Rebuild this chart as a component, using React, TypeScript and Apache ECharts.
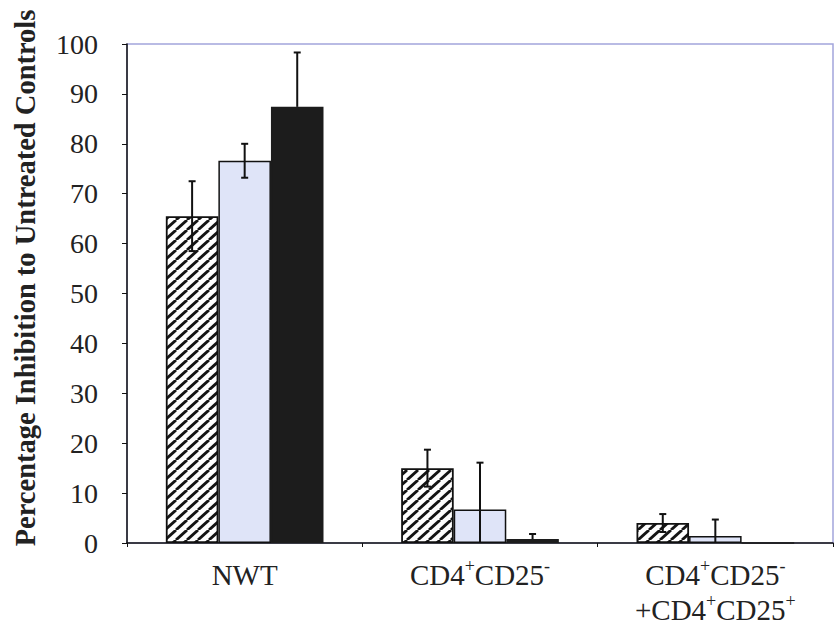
import React, { useEffect, useRef } from "react";
import * as echarts from "echarts";

const categories = ["NWT", "CD4+CD25-", "CD4+CD25-\n+CD4+CD25+"];
const yTicks = { min: 0, max: 100, interval: 10 };
const hatchedValues = [65.5, 15.0, 4.0];
const hatchedErrors = [7.0, 3.7, 1.8];
const lightValues = [76.6, 6.7, 1.4];
const lightErrors = [3.4, 9.4, 3.3];
const blackValues = [87.4, 0.8, 0];
const blackErrors = [10.9, 1.0, 0];
const yTitle = "Percentage Inhibition to Untreated Controls";

const SERIF = "'Liberation Serif', 'Times New Roman', serif";
const CAT_FILL = 0.67;
const HATCH_W = 11;
const HATCH_H = 10;

function makeHatch() {
  const w = HATCH_W;
  const h = HATCH_H;
  const c = document.createElement("canvas");
  c.width = w;
  c.height = h;
  const ctx = c.getContext("2d")!;
  ctx.fillStyle = "#ffffff";
  ctx.fillRect(0, 0, w, h);
  ctx.strokeStyle = "#151515";
  ctx.lineWidth = 2.8;
  for (const k of [-1, 0, 1]) {
    ctx.beginPath();
    ctx.moveTo(k * w, h);
    ctx.lineTo(k * w + w, 0);
    ctx.stroke();
  }
  return c;
}

export default function App() {
  const ref = useRef<HTMLDivElement>(null);
  useEffect(() => {
    if (!ref.current) return;
    const chart = echarts.init(ref.current, undefined, { renderer: "svg" });
    const hatch = makeHatch();

    const errData: any[] = [];
    const groups = [
      [hatchedValues, hatchedErrors],
      [lightValues, lightErrors],
      [blackValues, blackErrors],
    ];
    groups.forEach(([vals, errs], si) => {
      vals.forEach((v, ci) => {
        if (errs[ci] > 0) errData.push([ci, v, errs[ci], si]);
      });
    });

    const barCommon = {
      type: "bar",
      barGap: "0%",
      barCategoryGap: "33%",
    };

    chart.setOption({
      animation: false,
      grid: {
        left: 127,
        right: 7,
        top: 44,
        bottom: 82,
        show: true,
        borderColor: "#a3a5dc",
        borderWidth: 1.5,
        backgroundColor: "transparent",
      },
      xAxis: {
        type: "category",
        data: categories,
        axisLine: { lineStyle: { color: "#111", width: 1.5 } },
        axisTick: { show: true, length: 4, lineStyle: { color: "#111" } },
        axisLabel: {
          interval: 0,
          margin: 14,
          fontFamily: SERIF,
          fontSize: 29,
          lineHeight: 35,
          color: "#222",
          formatter: (v: string) => v.replace(/(\d)([+-])/g, "$1{sup|$2}"),
          rich: {
            sup: {
              fontFamily: SERIF,
              fontSize: 18,
              lineHeight: 22,
              verticalAlign: "top",
              color: "#222",
            },
          },
        },
      },
      yAxis: {
        type: "value",
        min: yTicks.min,
        max: yTicks.max,
        interval: yTicks.interval,
        splitLine: { show: false },
        axisLine: { show: true, lineStyle: { color: "#111", width: 1.5 } },
        axisTick: { show: true, inside: false, length: 5, lineStyle: { color: "#111" } },
        axisLabel: {
          margin: 29,
          fontFamily: SERIF,
          fontSize: 28,
          color: "#222",
        },
      },
      graphic: [
        {
          type: "text",
          x: 25,
          y: 278,
          rotation: Math.PI / 2,
          style: {
            text: yTitle,
            fontFamily: SERIF,
            fontWeight: "bold",
            fontSize: 28.5,
            fill: "#222",
            textAlign: "center",
            textVerticalAlign: "middle",
          },
        },
      ],
      series: [
        {
          ...barCommon,
          name: "Hatched",
          data: hatchedValues,
          itemStyle: {
            borderColor: "#111",
            borderWidth: 1.8,
            color: { image: hatch, repeat: "repeat", imageWidth: HATCH_W, imageHeight: HATCH_H },
          },
        },
        {
          ...barCommon,
          name: "Light",
          data: lightValues,
          itemStyle: { borderColor: "#111", borderWidth: 1.5, color: "#dfe4f8" },
        },
        {
          ...barCommon,
          name: "Black",
          data: blackValues,
          itemStyle: { borderColor: "#1c1c1c", borderWidth: 1.5, color: "#1c1c1c" },
        },
        {
          type: "custom",
          name: "Error",
          data: errData,
          z: 10,
          renderItem: (params: any, api: any) => {
            const ci = api.value(0);
            const v = api.value(1);
            const e = api.value(2);
            const si = api.value(3);
            const catW = api.size([1, 0])[0];
            const bw = (catW * CAT_FILL) / 3;
            const c = api.coord([ci, v]);
            const x = c[0] + (si - 1) * bw;
            const top = api.coord([ci, v + e])[1];
            const lowV = v - e;
            const bot = api.coord([ci, Math.max(0, lowV)])[1];
            const barTop = c[1];
            const cap = 3.5;
            const st = { stroke: "#111", lineWidth: 2 };
            const stemBottom = si === 2 ? barTop : bot;
            const children: any[] = [
              { type: "line", shape: { x1: x, y1: top, x2: x, y2: stemBottom }, style: st },
              { type: "line", shape: { x1: x - cap, y1: top, x2: x + cap, y2: top }, style: st },
            ];
            if (lowV > 0 && si !== 2) {
              children.push({
                type: "line",
                shape: { x1: x - cap, y1: bot, x2: x + cap, y2: bot },
                style: st,
              });
            }
            return { type: "group", children };
          },
        },
      ],
    });
    return () => chart.dispose();
  }, []);
  return (
    <div
      ref={ref}
      style={{ position: "fixed", left: 0, top: 0, width: 840, height: 627, background: "#fff" }}
    />
  );
}
